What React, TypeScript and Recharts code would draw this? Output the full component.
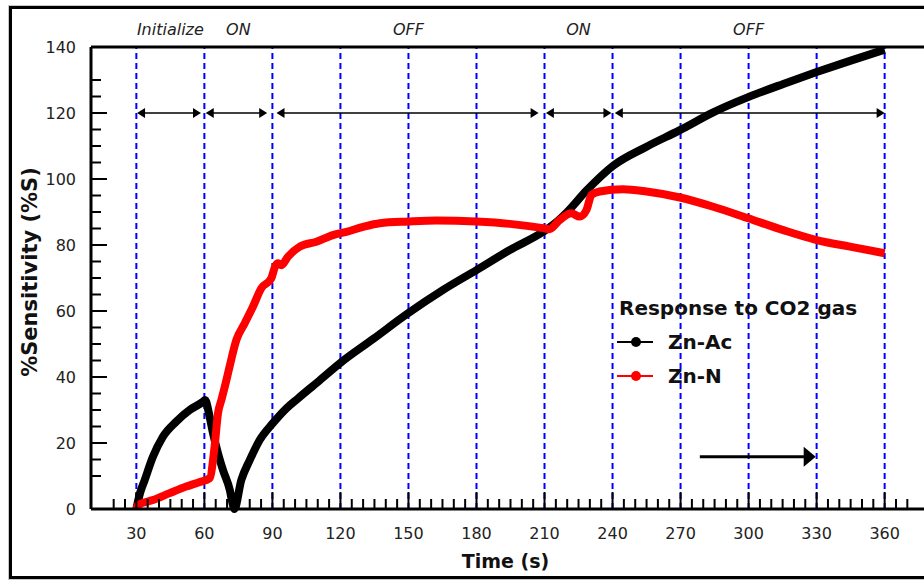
import { Legend, Line, LineChart, ReferenceArea, ReferenceLine, XAxis, YAxis } from 'recharts'

// Zn-Ac (black) response
const timeZnAc = [
  30, 31.5, 33.7, 37.3, 41.7, 47.6, 53.5, 59.4, 60.3, 62.3, 63.8, 66, 68.2, 71.2, 72.6, 73.2, 76.3, 80, 84.4, 90.2,
  96.2, 101.3, 110, 120, 134.4, 149.8, 165.3, 180, 194.7, 209.4, 215, 220, 228.5, 240.2, 255, 269.7, 284.4, 299.8,
  315.3, 330, 344.7, 360,
]
const sensZnAc = [
  0, 4.5, 8.8, 15.8, 21.9, 26.5, 30, 32.5, 33, 28, 23, 16.9, 11.8, 5.8, 1.2, 0, 8.8, 14.8, 20.9, 26, 30.5, 33.5, 38.5,
  44.3, 51.5, 59.3, 66.4, 72.4, 78.5, 84, 86.8, 90, 96.5, 104, 109.8, 114.8, 120.2, 124.8, 128.8, 132.4, 135.8, 139.2,
]

// Zn-N (red) response
const timeZnN = [
  30, 30.7, 37.3, 44.7, 52, 58, 62.3, 64.5, 66, 67.5, 69.7, 71.1, 74.1, 77.8, 81.4, 85.1, 89.5, 91.2, 92.5, 94, 96.9,
  102.1, 109.4, 116.7, 122.6, 130, 137.4, 149.9, 162.3, 180, 194.7, 209.4, 212, 216.7, 221.8, 225.5, 228.5, 230.7,
  234.3, 244.6, 255, 269.7, 284.4, 299.8, 315.3, 330, 344.7, 360,
]
const sensZnN = [
  0, 1.2, 2.7, 4.8, 6.8, 8.2, 9.3, 18.9, 29, 33, 39, 43.1, 51.2, 56.3, 61.3, 66.9, 69.9, 73.5, 74.5, 73.9, 76.5, 79.5,
  81, 83, 84, 85.5, 86.6, 87.1, 87.4, 87.1, 86.4, 85.1, 84.8, 87.6, 89.6, 88.6, 90.6, 95.2, 96.2, 96.9, 96.2, 94.4,
  91.6, 88.1, 84.5, 81.5, 79.5, 77.5,
]

const xMajorTicks = [30, 60, 90, 120, 150, 180, 210, 240, 270, 300, 330, 360]
const xMinorTicks = [
  20, 25, 35, 40, 45, 50, 55, 65, 70, 75, 80, 85, 95, 100, 105, 110, 115, 125, 130, 135, 140, 145, 155, 160, 165, 170,
  175, 185, 190, 195, 200, 205, 215, 220, 225, 230, 235, 245, 250, 255, 260, 265, 275, 280, 285, 290, 295, 305, 310,
  315, 320, 325, 335, 340, 345, 350, 355, 365, 370,
]
const yMajorTicks = [0, 20, 40, 60, 80, 100, 120, 140]
const yMinorTicks = [10, 15, 25, 30, 35, 45, 50, 55, 65, 70, 75, 85, 90, 95, 105, 110, 115, 125, 130]

// gas cycle phases
const phaseLabels = ['Initialize', 'ON', 'OFF', 'ON', 'OFF']
const phaseStart = [30, 60, 90, 210, 240]
const phaseEnd = [60, 90, 210, 240, 360]
const arrowFrom = [30.3, 60.6, 91.8, 210.6, 241]
const arrowTo = [58.5, 87.7, 207.4, 239.5, 360]
const arrowLevel = 120

const timeArrowFrom = 278.5
const timeArrowTo = 329.6
const timeArrowLevel = 15.8

const seriesNames = ['Zn-Ac', 'Zn-N']
const seriesColors = ['#000000', '#ff0000']
const legendTitle = 'Response to CO2 gas'

const dataZnAc = timeZnAc.map((t, i) => ({ time: t, value: sensZnAc[i] }))
const dataZnN = timeZnN.map((t, i) => ({ time: t, value: sensZnN[i] }))

const FONT = '"DejaVu Sans", Verdana, sans-serif'

function XTick(props: any) {
  const { x, y, payload } = props
  const major = xMajorTicks.includes(payload.value)
  return (
    <g>
      <line x1={x} x2={x} y1={y} y2={y - (major ? 17 : 10)} stroke="#000" strokeWidth={2} />
      {major && (
        <text x={x} y={y + 30} textAnchor="middle" fontSize={16} fontFamily={FONT} fill="#222">
          {payload.value}
        </text>
      )}
    </g>
  )
}

function YTick(props: any) {
  const { x, y, payload } = props
  const major = yMajorTicks.includes(payload.value)
  return (
    <g>
      <line x1={x} x2={x + (major ? 16 : 10)} y1={y} y2={y} stroke="#000" strokeWidth={2} />
      {major && (
        <text x={x - 15} y={y + 6} textAnchor="end" fontSize={16} fontFamily={FONT} fill="#222">
          {payload.value}
        </text>
      )}
    </g>
  )
}

function DoubleArrow(props: any) {
  const { x1, y1, x2 } = props
  const y = y1
  return (
    <g>
      <line x1={x1 + 4} x2={x2 - 4} y1={y} y2={y} stroke="#000" strokeWidth={1.5} />
      <polygon points={`${x1},${y} ${x1 + 8},${y - 5} ${x1 + 8},${y + 5}`} fill="#000" />
      <polygon points={`${x2},${y} ${x2 - 8},${y - 5} ${x2 - 8},${y + 5}`} fill="#000" />
    </g>
  )
}

function SingleArrow(props: any) {
  const { x1, y1, x2 } = props
  const y = y1
  return (
    <g>
      <line x1={x1} x2={x2 - 8} y1={y} y2={y} stroke="#000" strokeWidth={3} />
      <polygon points={`${x2},${y} ${x2 - 12},${y - 10} ${x2 - 12},${y + 10}`} fill="#000" />
    </g>
  )
}

function xTitle(p: any) {
  const vb = p.viewBox ?? { x: 91, y: 509, width: 839, height: 60 }
  const cx = vb.x + vb.width / 2 - 5
  return (
    <text x={cx} y={568} textAnchor="middle" fontSize={19} fontWeight="bold" fontFamily={FONT} fill="#111">
      Time (s)
    </text>
  )
}

function yTitle(p: any) {
  const vb = p.viewBox ?? { x: 41, y: 47, width: 50, height: 462 }
  const cx = 30
  const cy = vb.y + vb.height / 2 - 6
  return (
    <text
      x={cx}
      y={cy}
      transform={`rotate(-90 ${cx} ${cy})`}
      textAnchor="middle"
      dominantBaseline="central"
      fontSize={21}
      fontWeight="bold"
      fontFamily={FONT}
      fill="#111"
    >
      %Sensitivity (%S)
    </text>
  )
}

function LegendBox() {
  return (
    <div style={{ fontFamily: FONT, fontWeight: 'bold', fontSize: 20, color: '#111', lineHeight: '34px' }}>
      <div style={{ marginLeft: 2 }}>{legendTitle}</div>
      {seriesNames.map((name, i) => (
        <div key={name} style={{ display: 'flex', alignItems: 'center', height: 34 }}>
          <svg width={51} height={34}>
            <line x1={0} x2={36} y1={17} y2={17} stroke={seriesColors[i]} strokeWidth={2} />
            <circle cx={19} cy={17} r={5} fill={seriesColors[i]} />
          </svg>
          <span>{name}</span>
        </div>
      ))}
    </div>
  )
}

export default function App() {
  return (
    <div
      style={{
        position: 'absolute',
        left: 0,
        top: 0,
        width: 924,
        height: 581,
        overflow: 'hidden',
        background: '#fff',
      }}
    >
      <div
        style={{
          position: 'absolute',
          left: 9,
          top: 6,
          width: 940,
          height: 573,
          border: '3px solid #000',
          boxSizing: 'border-box',
          outline: '1px solid #c8c8c8',
        }}
      />
      <LineChart width={940} height={581} margin={{ top: 47, right: 10, bottom: 12, left: 41 }}>
        <XAxis
          dataKey="time"
          type="number"
          domain={[10, 380]}
          ticks={[...xMinorTicks, ...xMajorTicks].sort((a, b) => a - b)}
          interval={0}
          tick={<XTick />}
          tickLine={false}
          tickSize={0}
          tickMargin={0}
          axisLine={{ stroke: '#000', strokeWidth: 3 }}
          height={60}
          allowDuplicatedCategory={false}
          label={{ content: xTitle }}
        />
        <YAxis
          type="number"
          domain={[0, 140]}
          ticks={[...yMinorTicks, ...yMajorTicks].sort((a, b) => a - b)}
          interval={0}
          tick={<YTick />}
          tickLine={false}
          tickSize={0}
          tickMargin={0}
          axisLine={{ stroke: '#000', strokeWidth: 3 }}
          width={50}
          label={{ content: yTitle }}
        />
        {xMajorTicks.map((t) => (
          <ReferenceLine key={`v${t}`} x={t} stroke="#0000ff" strokeWidth={2} strokeDasharray="6 4" />
        ))}
        <ReferenceLine y={140} stroke="#000" strokeWidth={3} />
        {phaseLabels.map((lab, i) => (
          <ReferenceArea
            key={`p${i}`}
            x1={phaseStart[i]}
            x2={phaseEnd[i]}
            y1={130}
            y2={140}
            fill="none"
            fillOpacity={0}
            strokeOpacity={0}
            label={{
              value: lab,
              position: 'top',
              offset: 12,
              fontSize: 16,
              fontStyle: 'italic',
              fontFamily: FONT,
              fill: '#222',
            }}
          />
        ))}
        {arrowFrom.map((a, i) => (
          <ReferenceLine
            key={`a${i}`}
            segment={[
              { x: a, y: arrowLevel },
              { x: arrowTo[i], y: arrowLevel },
            ]}
            shape={DoubleArrow}
          />
        ))}
        <ReferenceLine
          segment={[
            { x: timeArrowFrom, y: timeArrowLevel },
            { x: timeArrowTo, y: timeArrowLevel },
          ]}
          shape={SingleArrow}
        />
        <Line
          data={dataZnAc}
          dataKey="value"
          name={seriesNames[0]}
          type="monotone"
          stroke={seriesColors[0]}
          strokeWidth={8}
          strokeLinejoin="round"
          dot={false}
          isAnimationActive={false}
        />
        <Line
          data={dataZnN}
          dataKey="value"
          name={seriesNames[1]}
          type="monotone"
          stroke={seriesColors[1]}
          strokeWidth={8}
          strokeLinejoin="round"
          dot={false}
          isAnimationActive={false}
        />
        <Legend
          layout="vertical"
          align="center"
          verticalAlign="middle"
          content={<LegendBox />}
          wrapperStyle={{ left: 617, top: 291, width: 'auto' }}
        />
      </LineChart>
    </div>
  )
}
